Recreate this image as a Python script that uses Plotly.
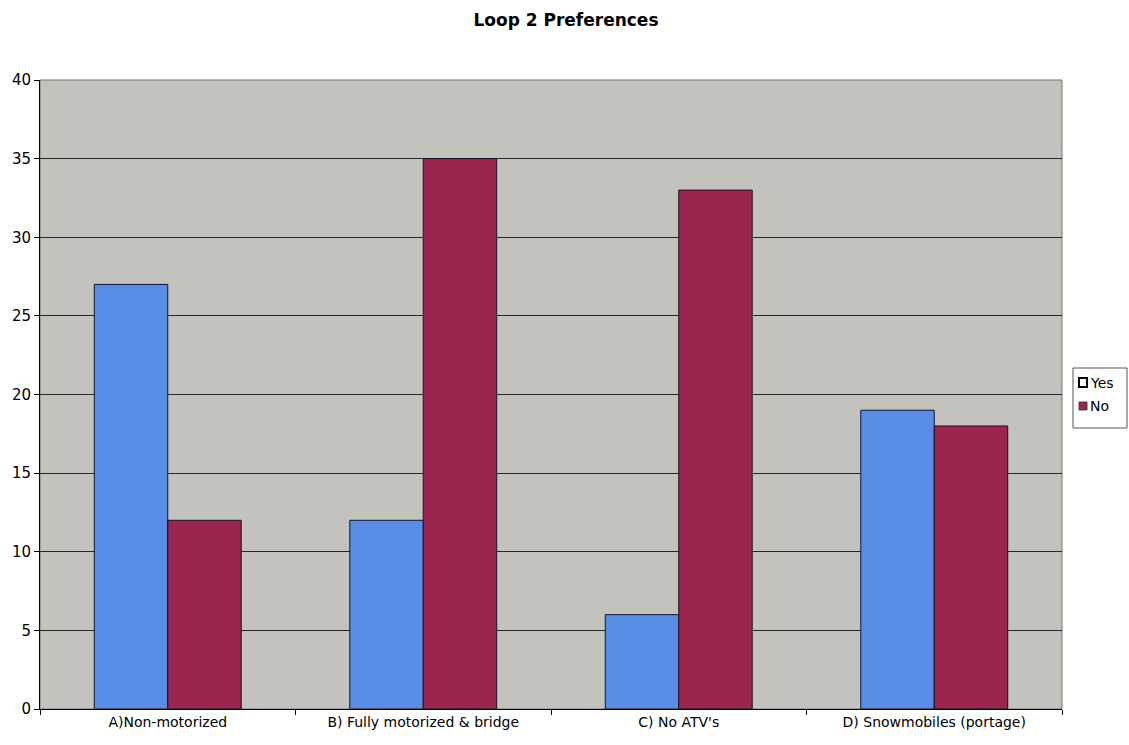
import plotly.graph_objects as go

categories = ["A)Non-motorized", "B) Fully motorized & bridge", "C) No ATV's", "D) Snowmobiles (portage)"]
yes_values = [27, 12, 6, 19]
no_values = [12, 35, 33, 18]
y_ticks = [0, 5, 10, 15, 20, 25, 30, 35, 40]
legend_labels = ["Yes", "No"]

BLUE = "#5a8ee6"
RED = "#9a2650"
FONT = "DejaVu Sans, Liberation Sans, Arial, sans-serif"

W, H = 1129, 745
L, R, T, B = 40, 67, 80, 36
PW, PH = W - L - R, H - T - B


def px(xp):
    return (xp - L) / PW


def py(yp):
    return (H - B - yp) / PH


fig = go.Figure()
fig.add_trace(go.Bar(x=categories, y=yes_values, name="Yes",
                     marker=dict(color=BLUE, line=dict(color="#151525", width=1))))
fig.add_trace(go.Bar(x=categories, y=no_values, name="No",
                     marker=dict(color=RED, line=dict(color="#151525", width=1))))

shapes = [
    dict(type="rect", xref="paper", yref="paper", x0=0, y0=0, x1=1, y1=1,
         line=dict(color="#777", width=1), layer="below"),
    # legend box
    dict(type="rect", xref="paper", yref="paper", x0=px(1073), x1=px(1127), y0=py(368), y1=py(428),
         line=dict(color="#555", width=1), fillcolor="white"),
    dict(type="rect", xref="paper", yref="paper", x0=px(1079), x1=px(1087), y0=py(378), y1=py(387),
         line=dict(color="black", width=2), fillcolor="white"),
    dict(type="rect", xref="paper", yref="paper", x0=px(1079), x1=px(1087), y0=py(402), y1=py(410),
         line=dict(color="#444", width=1), fillcolor=RED),
]
annotations = [
    dict(xref="paper", yref="paper", x=px(1088), y=py(382.5), text=legend_labels[0], showarrow=False,
         xanchor="left", yanchor="middle", font=dict(family=FONT, size=14, color="black")),
    dict(xref="paper", yref="paper", x=px(1088), y=py(406), text=legend_labels[1], showarrow=False,
         xanchor="left", yanchor="middle", font=dict(family=FONT, size=14, color="black")),
]

fig.update_layout(
    width=W, height=H,
    margin=dict(l=L, r=R, t=T, b=B, autoexpand=False),
    paper_bgcolor="white",
    plot_bgcolor="#c3c2bd",
    showlegend=False,
    title=dict(text="<b>Loop 2 Preferences</b>", x=px(566), xanchor="center", xref="paper",
               y=1 - 20 / H, yanchor="middle",
               font=dict(family=FONT, size=17, color="black")),
    barmode="group",
    bargap=0.425,
    bargroupgap=0,
    font=dict(family=FONT, size=14, color="black"),
    xaxis=dict(showline=True, linecolor="black", linewidth=1, ticks="outside", tickson="boundaries",
               ticklen=5, tickcolor="black", showgrid=False, tickfont=dict(size=14)),
    yaxis=dict(range=[0, 40], tickvals=y_ticks, showline=True, linecolor="black", linewidth=1,
               ticks="outside", ticklen=5, tickcolor="black", showgrid=True, gridcolor="#262626",
               gridwidth=1, zeroline=False, tickfont=dict(size=15)),
    shapes=shapes,
    annotations=annotations,
)

fig.write_html("out.html", config={"displayModeBar": False},
               post_script="document.body.style.margin='0';")
